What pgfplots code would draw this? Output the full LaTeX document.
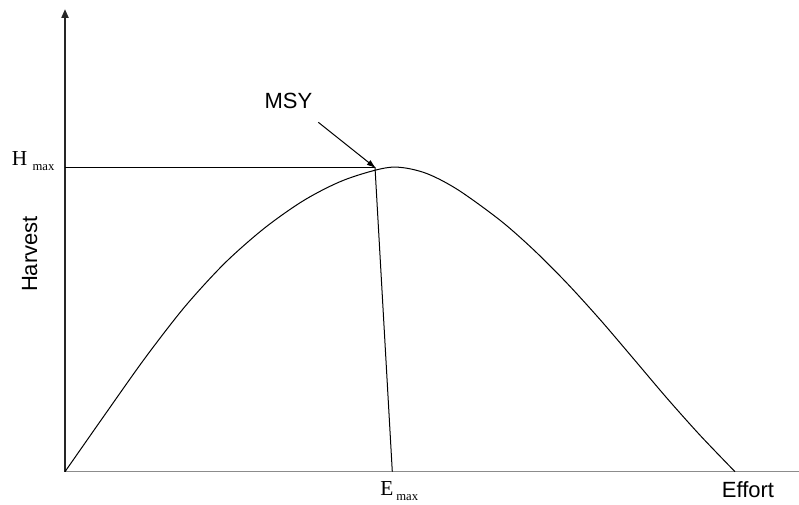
\documentclass[border=0pt]{standalone}
\usepackage{pgfplots}
\pgfplotsset{compat=1.18}
\usepackage{fontspec}
\setmainfont{Liberation Serif}
\newfontfamily\arial{Liberation Sans}
\usetikzlibrary{arrows.meta}
\begin{document}
\begin{tikzpicture}
\begin{axis}[
  scale only axis, width=599.25pt, height=378pt,
  xmin=-65, xmax=734, ymin=-32.3, ymax=471.7,
  hide axis, clip=false,
]
% axes
\addplot[gray!90, line width=1.1pt] coordinates {(0,0) (734,0)};
\addplot[black!85, line width=0.8pt, -{Triangle[width=5.5pt,length=6.5pt]}] coordinates {(0,0) (0,462.4)};
% yield curve
\addplot[black, line width=0.75pt, smooth, tension=0.5] coordinates {
(0,0) (40,57.2) (80,113.6) (120,165.2) (160,208.8) (200,244.0) (240,272.0)
(280,292.0) (325,304.4)
(358.3,299.4) (391.7,282.7) (435,251.5) (468.3,222.2) (501.7,188.8)
(535,152.2) (568.3,113.2) (601.7,73.8) (635,36.5) (670,0)};
% Hmax line
\addplot[black, line width=0.75pt] coordinates {(0,304.4) (310,304.4)};
% Emax line
\addplot[black, line width=0.75pt] coordinates {(310,304.4) (327.3,0)};
% MSY arrow
\addplot[black, line width=0.75pt, -{Latex[length=7pt,width=4.5pt]}] coordinates {(253.3,349.4) (311,303.4)};
% labels
\node[anchor=base west, inner sep=0pt, font=\fontsize{16}{18}\selectfont] at (axis cs:-53.3,305.7) {H};
\node[anchor=base west, inner sep=0pt, font=\fontsize{9.5}{11}\selectfont] at (axis cs:-32.7,300.7) {max};
\node[anchor=base west, inner sep=0pt, font=\fontsize{16}{18}\selectfont] at (axis cs:315,-23.3) {E};
\node[anchor=base west, inner sep=0pt, font=\fontsize{9.5}{11}\selectfont] at (axis cs:331,-28.3) {max};
\node[anchor=base, inner sep=0pt, font=\arial\fontsize{16.5}{19}\selectfont] at (axis cs:683,-25.3) {Effort};
\node[anchor=base, inner sep=0pt, font=\arial\fontsize{16.5}{19}\selectfont] at (axis cs:223.5,363.4) {MSY};
\node[anchor=center, rotate=90, inner sep=0pt, font=\arial\fontsize{16.5}{19}\selectfont] at (axis cs:-35.3,217.7) {Harvest};
\end{axis}
\pgfresetboundingbox
\path (current axis.south west) rectangle (current axis.north east);
\end{tikzpicture}
\end{document}
